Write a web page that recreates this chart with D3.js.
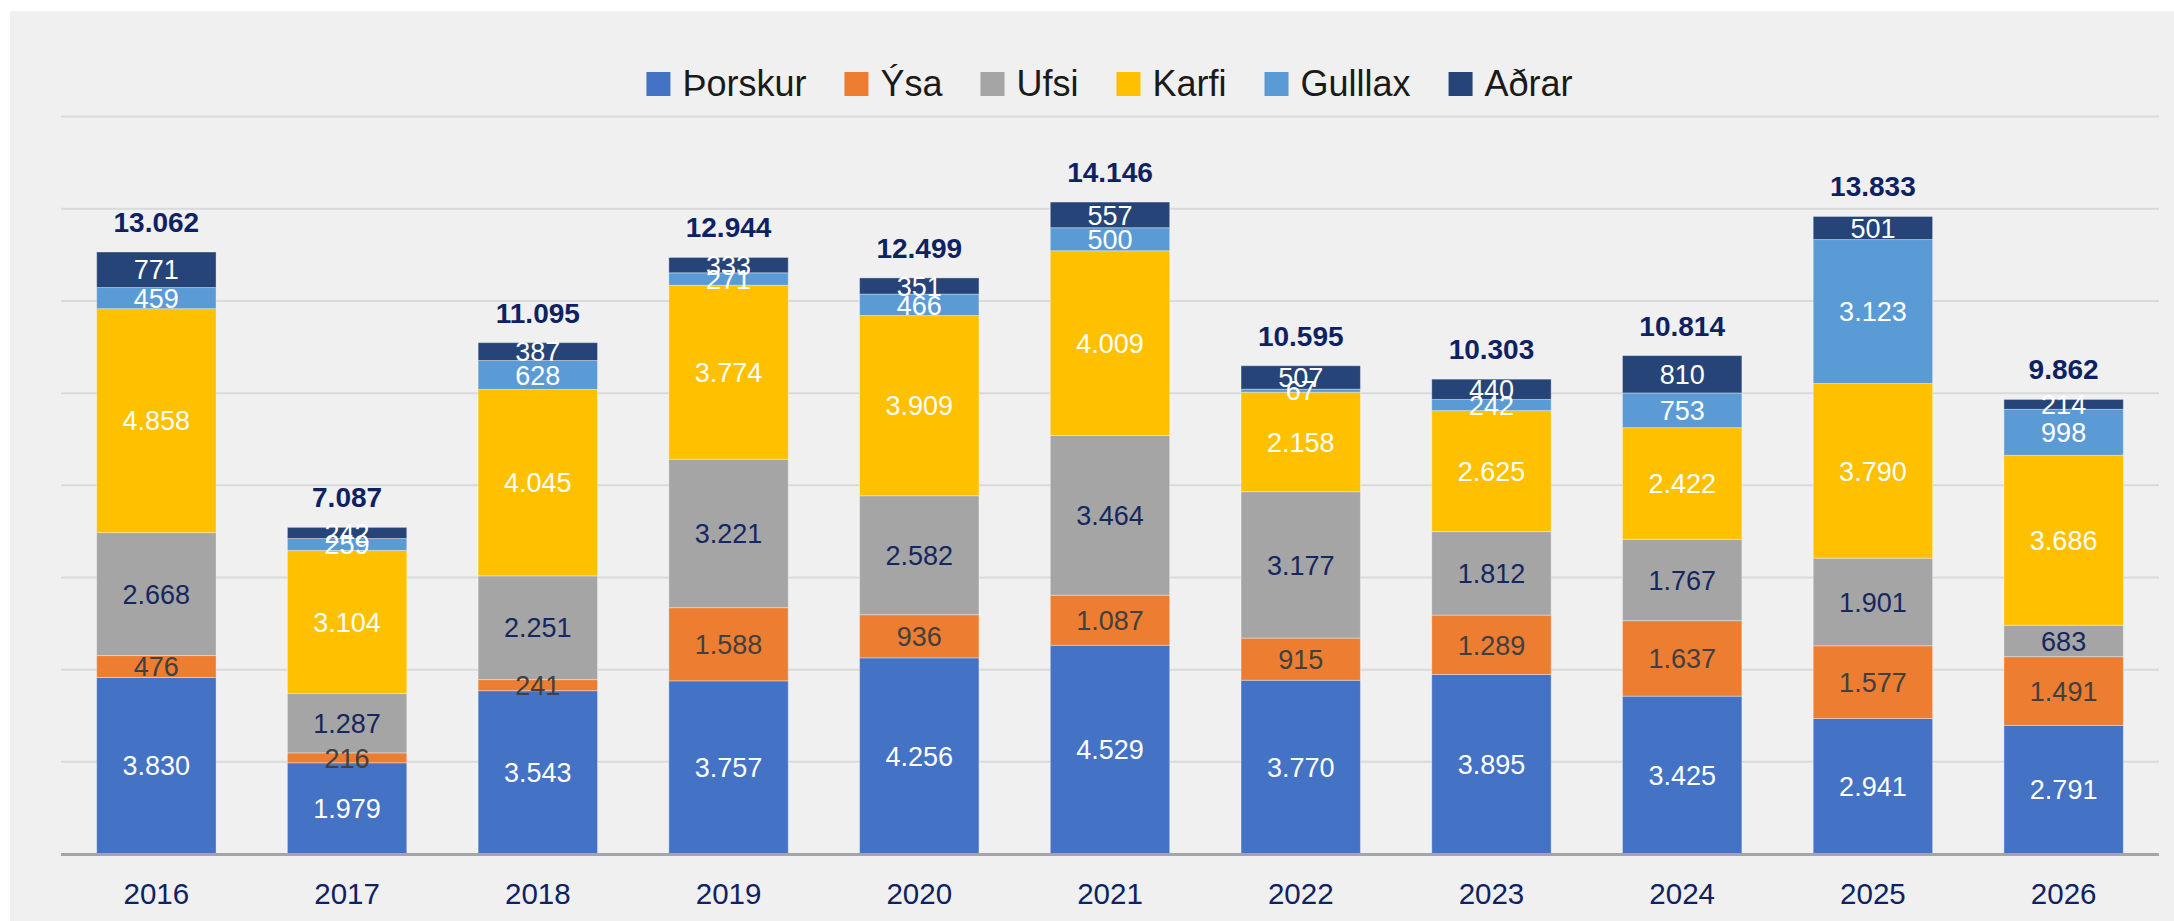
<!DOCTYPE html>
<html lang="is">
<head>
  <meta charset="UTF-8">
  <title>Afli eftir tegundum</title>
  <script src="https://d3js.org/d3.v7.min.js"></script>
  <style>
    html, body {
      margin: 0;
      background: #ffffff;
      font-family: "Liberation Sans", Arial, sans-serif;
    }
    svg { display: block; }
  </style>
</head>
<body>
  <svg id="chart" width="2174" height="921"></svg>
  <script>
    const years = ["2016", "2017", "2018", "2019", "2020", "2021", "2022", "2023", "2024", "2025", "2026"];
    const species = ["Þorskur", "Ýsa", "Ufsi", "Karfi", "Gulllax", "Aðrar"];

    const thorskur = [3830, 1979, 3543, 3757, 4256, 4529, 3770, 3895, 3425, 2941, 2791];
    const ysa      = [476, 216, 241, 1588, 936, 1087, 915, 1289, 1637, 1577, 1491];
    const ufsi     = [2668, 1287, 2251, 3221, 2582, 3464, 3177, 1812, 1767, 1901, 683];
    const karfi    = [4858, 3104, 4045, 3774, 3909, 4009, 2158, 2625, 2422, 3790, 3686];
    const gulllax  = [459, 259, 628, 271, 466, 500, 67, 242, 753, 3123, 998];
    const adrar    = [771, 242, 387, 333, 351, 557, 507, 440, 810, 501, 214];
    // totals as printed above the bars
    const totals   = [13062, 7087, 11095, 12944, 12499, 14146, 10595, 10303, 10814, 13833, 9862];

    const colors = ["#4472c4", "#ed7d31", "#a5a5a5", "#ffc000", "#5b9bd5", "#264478"];
    const labelColors = ["#ffffff", "#404040", "#14275e", "#ffffff", "#ffffff", "#ffffff"];

    const series = [thorskur, ysa, ufsi, karfi, gulllax, adrar];
    const rows = years.map((y, i) => {
      const r = { year: y };
      species.forEach((s, k) => r[s] = series[k][i]);
      return r;
    });

    const fmt = v => d3.format(",")(v).replace(/,/g, ".");

    const svg = d3.select("#chart");

    // grey panel
    svg.append("rect")
      .attr("x", 10).attr("y", 11)
      .attr("width", 2164).attr("height", 910)
      .attr("fill", "#eff0ef");

    const x = d3.scaleBand()
      .domain(years)
      .range([61, 2159])
      .paddingInner(0.374)
      .paddingOuter(0.187);

    const y = d3.scaleLinear()
      .domain([0, 16000])
      .range([854, 116.6]);

    // gridlines
    svg.append("g")
      .selectAll("line")
      .data(d3.range(2000, 16001, 2000))
      .enter().append("line")
      .attr("x1", 61).attr("x2", 2159)
      .attr("y1", d => y(d)).attr("y2", d => y(d))
      .attr("stroke", "#d9dadb")
      .attr("stroke-width", 2);

    const stack = d3.stack().keys(species);
    const layers = stack(rows);

    const layerG = svg.append("g")
      .selectAll("g")
      .data(layers)
      .enter().append("g")
      .attr("fill", (d, i) => colors[i]);

    layerG.selectAll("rect")
      .data(d => d)
      .enter().append("rect")
      .attr("x", d => x(d.data.year))
      .attr("y", d => y(d[1]))
      .attr("width", x.bandwidth())
      .attr("height", d => y(d[0]) - y(d[1]))
      .attr("stroke", "rgba(255,255,255,0.35)")
      .attr("stroke-width", 1);

    // segment labels
    const labelG = svg.append("g")
      .attr("text-anchor", "middle")
      .style("font-size", "27px");

    layers.forEach((layer, k) => {
      labelG.selectAll(null)
        .data(layer)
        .enter().append("text")
        .attr("x", d => x(d.data.year) + x.bandwidth() / 2)
        .attr("y", d => (y(d[0]) + y(d[1])) / 2)
        .attr("dy", "0.36em")
        .attr("fill", labelColors[k])
        .text(d => fmt(d.data[layer.key]));
    });

    // totals
    svg.append("g")
      .selectAll("text")
      .data(layers[layers.length - 1])
      .enter().append("text")
      .attr("x", d => x(d.data.year) + x.bandwidth() / 2)
      .attr("y", d => y(d[1]) - 20)
      .attr("text-anchor", "middle")
      .attr("fill", "#0e2263")
      .style("font-size", "28px")
      .style("font-weight", "bold")
      .text((d, i) => fmt(totals[i]));

    // x axis
    const xAxis = svg.append("g")
      .attr("transform", "translate(0,854)")
      .call(d3.axisBottom(x).tickSize(0).tickPadding(0));
    xAxis.select(".domain").remove();
    xAxis.selectAll("text")
      .attr("y", 50)
      .attr("dy", 0)
      .attr("fill", "#0e2263")
      .style("font-size", "29.5px")
      .style("font-family", "'Liberation Sans', Arial, sans-serif");

    svg.append("line")
      .attr("x1", 61).attr("x2", 2159)
      .attr("y1", 854.5).attr("y2", 854.5)
      .attr("stroke", "#a3a6a9")
      .attr("stroke-width", 3);

    // legend
    const legend = svg.append("g").style("font-size", "36px");
    const items = species.map((s, i) => {
      const g = legend.append("g");
      g.append("rect")
        .attr("width", 24).attr("height", 24)
        .attr("y", 72)
        .attr("fill", colors[i]);
      const t = g.append("text")
        .attr("x", 36)
        .attr("y", 96)
        .attr("fill", "#1a1a1a")
        .text(s);
      return { g, w: 36 + t.node().getComputedTextLength() };
    });
    const gap = 38;
    const totalW = d3.sum(items, d => d.w) + gap * (items.length - 1);
    let cx = 1109.5 - totalW / 2;
    items.forEach(it => {
      it.g.attr("transform", `translate(${cx},0)`);
      cx += it.w + gap;
    });
  </script>
</body>
</html>
